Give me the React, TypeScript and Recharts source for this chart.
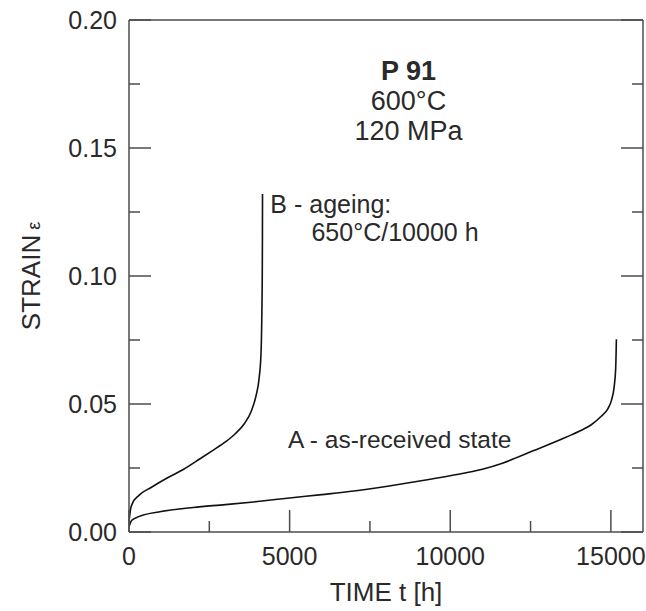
import { LineChart, Line, XAxis, YAxis, ReferenceDot } from "recharts";

// curve A - as-received state
const timeA = [0, 80, 300, 1000, 2000, 3000, 4000, 5000, 6000, 7000, 8000, 9000, 10000, 11000, 11600, 12600, 13600, 14200, 14400, 14700, 14900, 15020, 15100, 15150, 15172];
const strainA = [0.002, 0.0045, 0.006, 0.008, 0.0096, 0.0107, 0.0119, 0.0133, 0.0146, 0.016, 0.0178, 0.0198, 0.022, 0.0245, 0.0268, 0.0318, 0.037, 0.0405, 0.042, 0.0452, 0.048, 0.0515, 0.0565, 0.064, 0.0753];

// curve B - aged 650°C/10000 h
const timeB = [0, 50, 100, 300, 700, 1200, 1700, 2200, 2600, 3000, 3300, 3600, 3800, 3950, 4050, 4110, 4135, 4148, 4153, 4156];
const strainB = [0.004, 0.009, 0.011, 0.0142, 0.0175, 0.0212, 0.0245, 0.0285, 0.0318, 0.0352, 0.0383, 0.0425, 0.047, 0.053, 0.06, 0.07, 0.085, 0.1, 0.115, 0.132];

const xTicks = [0, 2500, 5000, 7500, 10000, 12500, 15000];
const yTicks = [0, 0.025, 0.05, 0.075, 0.1, 0.125, 0.15, 0.175, 0.2];

const notes = [
  { t: 8700, s: 0.1766, text: "P 91", anchor: "middle", bold: true, size: 27 },
  { t: 8700, s: 0.1648, text: "600°C", anchor: "middle", bold: false, size: 27 },
  { t: 8700, s: 0.1531, text: "120 MPa", anchor: "middle", bold: false, size: 27 },
  { t: 4400, s: 0.1246, text: "B - ageing:", anchor: "start", bold: false, size: 25 },
  { t: 5680, s: 0.1138, text: "650°C/10000 h", anchor: "start", bold: false, size: 25 },
  { t: 4950, s: 0.0327, text: "A - as-received state", anchor: "start", bold: false, size: 24.5 },
];

const seriesA = timeA.map((t, i) => ({ time: t, strain: strainA[i] }));
const seriesB = timeB.map((t, i) => ({ time: t, strain: strainB[i] }));

const AXIS = "#4d4d4d";
const TEXT = "#2a2a2a";
const FONT = "'Liberation Sans', Arial, Helvetica, sans-serif";

const isMajorX = (v: number) => v % 5000 === 0;
const isMajorY = (v: number) => Math.round(v * 1000) % 50 === 0;

function BottomTick({ x, y, payload }: any) {
  const major = isMajorX(payload.value);
  return (
    <g>
      <line x1={x} x2={x} y1={y} y2={y - (major ? 22 : 11)} stroke={AXIS} strokeWidth={1.5} />
      {major && (
        <text x={x} y={y + 33} textAnchor="middle" fontSize={25} fontFamily={FONT} fill={TEXT}>
          {payload.value}
        </text>
      )}
    </g>
  );
}

function TopTick({ x, y, payload }: any) {
  const major = isMajorX(payload.value);
  return <line x1={x} x2={x} y1={y} y2={y + (major ? 22 : 11)} stroke={AXIS} strokeWidth={1.5} />;
}

function LeftTick({ x, y, payload }: any) {
  const major = isMajorY(payload.value);
  return (
    <g>
      <line x1={x} x2={x + (major ? 22 : 11)} y1={y} y2={y} stroke={AXIS} strokeWidth={1.5} />
      {major && (
        <text x={x - 12} y={y + 9} textAnchor="end" fontSize={25} fontFamily={FONT} fill={TEXT}>
          {payload.value.toFixed(2)}
        </text>
      )}
    </g>
  );
}

function RightTick({ x, y, payload }: any) {
  const major = isMajorY(payload.value);
  return <line x1={x} x2={x - (major ? 22 : 11)} y1={y} y2={y} stroke={AXIS} strokeWidth={1.5} />;
}

function XLabel({ viewBox }: any) {
  return (
    <text x={viewBox.x + viewBox.width / 2} y={601} textAnchor="middle" fontSize={26} fontFamily={FONT} fill={TEXT}>
      TIME t [h]
    </text>
  );
}

function YLabel({ viewBox }: any) {
  const cx = 40;
  const cy = viewBox.y + viewBox.height / 2;
  return (
    <text x={cx} y={cy} transform={`rotate(-90 ${cx} ${cy})`} textAnchor="middle" fontSize={26} fontFamily={FONT} fill={TEXT}>
      STRAIN<tspan fontSize={18} dx={5}>ε</tspan>
    </text>
  );
}

function Note({ viewBox, text, anchor, bold, size }: any) {
  return (
    <text x={viewBox.x} y={viewBox.y} textAnchor={anchor} fontSize={size} fontWeight={bold ? 700 : 400} fontFamily={FONT} fill={TEXT}>
      {text}
    </text>
  );
}

export default function App() {
  return (
    <div style={{ position: "absolute", left: 0, top: 0, background: "#fff" }}>
      <LineChart width={646} height={611} margin={{ top: 19, right: 0, bottom: 0, left: 0 }}>
        <XAxis
          dataKey="time"
          type="number"
          domain={[0, 16000]}
          ticks={xTicks}
          interval={0}
          tickSize={0}
          tickMargin={0}
          tickLine={false}
          tick={<BottomTick />}
          axisLine={{ stroke: AXIS, strokeWidth: 1.5 }}
          height={79}
          allowDataOverflow
          label={<XLabel />}
        />
        <XAxis
          xAxisId="top"
          orientation="top"
          type="number"
          domain={[0, 16000]}
          ticks={xTicks}
          interval={0}
          tickSize={0}
          tickMargin={0}
          tickLine={false}
          tick={<TopTick />}
          axisLine={{ stroke: AXIS, strokeWidth: 1.5 }}
          height={1}
          allowDataOverflow
        />
        <YAxis
          type="number"
          domain={[0, 0.2]}
          ticks={yTicks}
          interval={0}
          tickSize={0}
          tickMargin={0}
          tickLine={false}
          tick={<LeftTick />}
          axisLine={{ stroke: AXIS, strokeWidth: 1.5 }}
          width={129}
          allowDataOverflow
          label={<YLabel />}
        />
        <YAxis
          yAxisId="right"
          orientation="right"
          type="number"
          domain={[0, 0.2]}
          ticks={yTicks}
          interval={0}
          tickSize={0}
          tickMargin={0}
          tickLine={false}
          tick={<RightTick />}
          axisLine={{ stroke: AXIS, strokeWidth: 1.5 }}
          width={3}
          allowDataOverflow
        />
        <Line data={seriesA} dataKey="strain" type="monotone" stroke="#111" strokeWidth={1.6} dot={false} isAnimationActive={false} />
        <Line data={seriesB} dataKey="strain" type="monotone" stroke="#111" strokeWidth={1.6} dot={false} isAnimationActive={false} />
        {notes.map((n) => (
          <ReferenceDot
            key={n.text}
            x={n.t}
            y={n.s}
            r={0}
            fill="none"
            stroke="none"
            label={<Note text={n.text} anchor={n.anchor} bold={n.bold} size={n.size} />}
          />
        ))}
      </LineChart>
    </div>
  );
}
